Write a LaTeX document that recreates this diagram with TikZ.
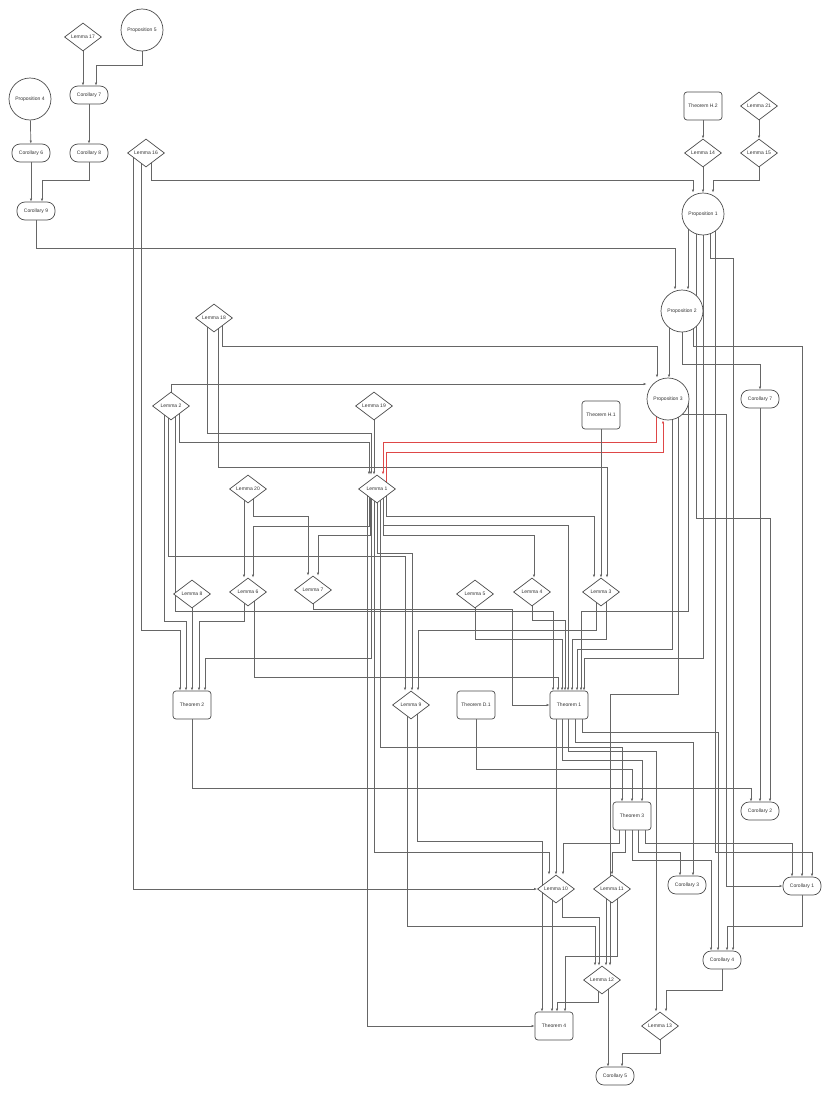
\documentclass[tikz,border=0pt]{standalone}
\usepackage{fontspec}
\setmainfont{Liberation Sans}
\usetikzlibrary{shapes.geometric,arrows.meta,backgrounds}

\definecolor{cyclered}{RGB}{222,72,72}

\tikzset{
  lem/.style={diamond, draw=black!70, fill=white, line width=0.7pt, minimum width=37pt, minimum height=28pt, inner sep=0pt},
  prp/.style={circle, draw=black!70, fill=white, line width=0.7pt, minimum size=42pt, inner sep=0pt},
  cor/.style={rectangle, rounded corners=8pt, draw=black!70, fill=white, line width=0.7pt, minimum width=38pt, minimum height=18pt, inner sep=0pt},
  thm/.style={rectangle, rounded corners=3pt, draw=black!70, fill=white, line width=0.7pt, minimum width=38pt, minimum height=28pt, inner sep=0pt},
  arr/.style={-{Latex[length=3pt,width=2.4pt]}, draw=black!60, line width=0.7pt},
  redarr/.style={arr, draw=cyclered}
}

\begin{document}
\begin{tikzpicture}[x=1pt,y=-1pt,font=\fontsize{5}{6}\selectfont,text=black!80]
  \useasboundingbox (0,0) rectangle (830,1095);

  % upper left group
  \node[prp] (p5) at (142,30) {Proposition 5};
  \node[lem] (l17) at (83,37) {Lemma 17};
  \node[prp] (p4) at (30,99) {Proposition 4};
  \node[cor] (c7) at (89,95) {Corollary 7};
  \node[cor] (c6) at (31,153) {Corollary 6};
  \node[cor] (c8) at (89,153) {Corollary 8};
  \node[lem] (l16) at (146,153) {Lemma 16};
  \node[cor] (c9) at (36,211) {Corollary 9};

  % upper right group
  \node[thm] (th2) at (703,106) {Theorem H.2};
  \node[lem] (l21) at (759,106) {Lemma 21};
  \node[lem] (l14) at (703,153) {Lemma 14};
  \node[lem] (l15) at (759,153) {Lemma 15};
  \node[prp] (p1) at (703,214) {Proposition 1};
  \node[prp] (p2) at (682,311) {Proposition 2};
  \node[prp] (p3) at (668,399) {Proposition 3};
  \node[cor] (c7b) at (760,399) {Corollary 7};
  \node[thm] (th1) at (601,415) {Theorem H.1};

  % middle
  \node[lem] (l18) at (214,318) {Lemma 18};
  \node[lem] (l2) at (171,406) {Lemma 2};
  \node[lem] (l19) at (374,406) {Lemma 19};
  \node[lem] (l20) at (248,489) {Lemma 20};
  \node[lem] (l1) at (377,489) {Lemma 1};
  \node[lem] (l8) at (192,594) {Lemma 8};
  \node[lem] (l6) at (248,592) {Lemma 6};
  \node[lem] (l7) at (313,590) {Lemma 7};
  \node[lem] (l5) at (475,594) {Lemma 5};
  \node[lem] (l4) at (532,592) {Lemma 4};
  \node[lem] (l3) at (601,592) {Lemma 3};
  \node[thm] (t2) at (192,705) {Theorem 2};
  \node[lem] (l9) at (411,705) {Lemma 9};
  \node[thm] (td1) at (476,705) {Theorem D.1};
  \node[thm] (t1) at (569,705) {Theorem 1};

  % lower part
  \node[thm] (t3) at (632,816) {Theorem 3};
  \node[cor] (c2) at (760,811) {Corollary 2};
  \node[lem] (l10) at (556,889) {Lemma 10};
  \node[lem] (l11) at (612,889) {Lemma 11};
  \node[cor] (c3) at (687,885) {Corollary 3};
  \node[cor] (c1) at (802,886) {Corollary 1};
  \node[cor] (c4) at (722,960) {Corollary 4};
  \node[lem] (l12) at (602,980) {Lemma 12};
  \node[thm] (t4) at (554,1026) {Theorem 4};
  \node[lem] (l13) at (660,1026) {Lemma 13};
  \node[cor] (c5) at (615,1076) {Corollary 5};

  \begin{scope}[on background layer]
    \fill[white] (0,0) rectangle (830,1095);
    % top left
    \draw[arr] (l17.center) -- ([xshift=-6pt]c7.north);
    \draw[arr] (p5.center) -- ++(0,35) -| ([xshift=7pt]c7.north);
    \draw[arr] (p4) -- (c6);
    \draw[arr] (c7) -- (c8);
    \draw[arr] (c6.center) -- ([xshift=-5pt]c9.north);
    \draw[arr] (c8.center) -- ++(0,27) -| ([xshift=6pt]c9.north);
    \draw[arr] (c9.center) |- (675,248) -- ([xshift=-7pt]p2.north);
    \draw[arr] ([xshift=5pt]l16.center) |- (693,180) -- ([xshift=-10pt]p1.north);
    \draw[arr] ([xshift=-13pt]l16.center) |- (l10.west);
    \draw[arr] ([xshift=-5pt]l16.center) |- (180,630) -- ([xshift=-12pt]t2.north);
    % top right
    \draw[arr] (th2) -- (l14);
    \draw[arr] (l21) -- (l15);
    \draw[arr] (l14) -- (p1);
    \draw[arr] (l15.center) |- (713,180) -- ([xshift=10pt]p1.north);
    \draw[arr] ([xshift=-15pt]p1.center) -- ([xshift=6pt]p2.north);
    \draw[arr] ([xshift=-7pt]p1.center) |- (770,518) -- ([xshift=10pt]c2.north);
    \draw[arr] (p1.center) |- (584,658) -- ([xshift=15pt]t1.north);
    \draw[arr] ([xshift=7pt]p1.center) |- (733,258) -- ([xshift=11pt]c4.north);
    \draw[arr] ([xshift=12pt]p1.center) |- (812,852) -- ([xshift=10pt]c1.north);
    \draw[arr] ([xshift=-13pt]p2.center) -- ([xshift=1pt]p3.north);
    \draw[arr] (p2.center) |- (760,364) -- (c7b.north);
    \draw[arr] ([xshift=11pt]p2.center) |- (802,346) -- (c1.north);
    \draw[arr] (c7b) -- (c2);
    % lemma 18, 2, 19
    \draw[arr] ([xshift=-7pt]l18.center) |- (371,433) -- ([xshift=-6pt]l1.north);
    \draw[arr] ([xshift=4pt]l18.center) |- (607,467) -- ([xshift=6pt]l3.north);
    \draw[arr] ([xshift=8pt]l18.center) |- (657,346) -- ([xshift=-11pt]p3.north);
    \draw[arr] (l2.center) |- ([yshift=15pt]p3.west);
    \draw[arr] ([xshift=8pt]l2.center) |- (369,442) -- ([xshift=-8pt]l1.north);
    \draw[arr] ([xshift=-7pt]l2.center) |- (186,621) -- ([xshift=-6pt]t2.north);
    \draw[arr] ([xshift=-3pt]l2.center) |- (405,556) -- ([xshift=-6pt]l9.north);
    \draw[arr] ([xshift=4pt]l2.center) |- (553,611) -- ([xshift=-16pt]t1.north);
    \draw[arr] (l19.center) -- ([xshift=-3pt]l1.north);
    % the red pair
    \draw[redarr] ([xshift=-12pt]p3.center) |- (383,442) -- ([xshift=6pt]l1.north);
    \draw[redarr] ([xshift=9pt]l1.center) |- (663,452) -- ([xshift=-5pt]p3.south);
    \draw[arr] (th1) -- (l3);
    % lemma 20 and lemma 1
    \draw[arr] ([xshift=-4pt]l20.center) -- ([xshift=-4pt]l6.north);
    \draw[arr] ([xshift=5pt]l20.center) |- (308,516) -- ([xshift=-5pt]l7.north);
    \draw[arr] ([xshift=-8pt]l1.center) |- (253,526) -- ([xshift=5pt]l6.north);
    \draw[arr] ([xshift=-7pt]l1.center) |- (318,535) -- ([xshift=5pt]l7.north);
    \draw[arr] ([xshift=6pt]l1.center) |- (534,535) -- ([xshift=2pt]l4.north);
    \draw[arr] ([xshift=9pt]l1.center) |- (594,516) -- ([xshift=-7pt]l3.north);
    \draw[arr] ([xshift=6pt]l1.center) |- (568,525) -- ([xshift=-1pt]t1.north);
    \draw[arr] (l1.center) |- (412,553) -- ([xshift=1pt]l9.north);
    \draw[arr] ([xshift=-6pt]l1.center) |- (205,658) -- ([xshift=13pt]t2.north);
    \draw[arr] ([xshift=3pt]l1.center) |- (622,747) -- ([xshift=-10pt]t3.north);
    \draw[arr] ([xshift=-3pt]l1.center) |- (549,852) -- ([xshift=-7pt]l10.north);
    \draw[arr] ([xshift=-10pt]l1.center) |- (t4.west);
    % row of lemmas into the theorems
    \draw[arr] ([xshift=-4pt]l6.center) |- (199,621) -- ([xshift=7pt]t2.north);
    \draw[arr] ([xshift=6pt]l6.center) |- (558,677) -- ([xshift=-11pt]t1.north);
    \draw[arr] (l7.center) |- (512,609) |- (t1.west);
    \draw[arr] (l8) -- (t2);
    \draw[arr] (l5.center) |- (562,639) -- ([xshift=-7pt]t1.north);
    \draw[arr] (l4.center) |- (565,620) -- ([xshift=-4pt]t1.north);
    \draw[arr] ([xshift=-5pt]l3.center) |- (418,630) -- ([xshift=7pt]l9.north);
    \draw[arr] ([xshift=5pt]l3.center) |- (572,639) -- ([xshift=3pt]t1.north);
    \draw[arr] ([xshift=4pt]p3.center) |- (577,649) -- ([xshift=8pt]t1.north);
    \draw[arr] ([xshift=20pt]p3.center) |- (581,611) -- ([xshift=12pt]t1.north);
    \draw[arr] ([xshift=10pt]p3.center) |- (610,694) -- ([xshift=8pt]l12.north);
    \draw[arr] ([yshift=-15pt]p3.center) -| (726,886) -- (c1.west);
    % theorem 1, D.1, 2 and lemma 9
    \draw[arr] ([xshift=-13pt]t1.center) -- (l10.north);
    \draw[arr] ([xshift=-7pt]t1.center) |- (642,760) -- ([xshift=10pt]t3.north);
    \draw[arr] ([xshift=-1pt]t1.center) |- (656,751) -- ([xshift=-4pt]l13.north);
    \draw[arr] ([xshift=6pt]t1.center) |- (693,742) -- ([xshift=6pt]c3.north);
    \draw[arr] ([xshift=13pt]t1.center) |- (718,732) -- ([xshift=-4pt]c4.north);
    \draw[arr] (td1.center) |- (632,769) -- (t3.north);
    \draw[arr] (t2.center) |- (751,788) -- ([xshift=-9pt]c2.north);
    \draw[arr] ([xshift=-4pt]l9.center) |- (595,926) -- ([xshift=-7pt]l12.north);
    \draw[arr] ([xshift=6pt]l9.center) |- (542,841) -- ([xshift=-12pt]t4.north);
    % theorem 3 and below
    \draw[arr] ([xshift=-13pt]t3.center) |- (563,843) -- ([xshift=7pt]l10.north);
    \draw[arr] ([xshift=-7pt]t3.center) |- (612,852) -- (l11.north);
    \draw[arr] (t3.center) |- (711,860) -- ([xshift=-11pt]c4.north);
    \draw[arr] ([xshift=6pt]t3.center) |- (680,852) -- ([xshift=-7pt]c3.north);
    \draw[arr] ([xshift=13pt]t3.center) |- (792,843) -- ([xshift=-10pt]c1.north);
    \draw[arr] ([xshift=-4pt]l10.center) -- ([xshift=-2pt]t4.north);
    \draw[arr] ([xshift=6pt]l10.center) |- (599,917) -- ([xshift=-3pt]l12.north);
    \draw[arr] ([xshift=-6pt]l11.center) -- ([xshift=4pt]l12.north);
    \draw[arr] ([xshift=5pt]l11.center) |- (565,956) -- ([xshift=11pt]t4.north);
    \draw[arr] ([xshift=-4pt]l12.center) |- (557,1002) -- ([xshift=3pt]t4.north);
    \draw[arr] ([xshift=6pt]l12.center) -- ([xshift=-7pt]c5.north);
    \draw[arr] (c1.center) |- (727,926) -- ([xshift=5pt]c4.north);
    \draw[arr] (c4.center) |- (666,990) -- ([xshift=6pt]l13.north);
    \draw[arr] (l13.center) |- (622,1053) -- ([xshift=7pt]c5.north);
  \end{scope}
\end{tikzpicture}
\end{document}
